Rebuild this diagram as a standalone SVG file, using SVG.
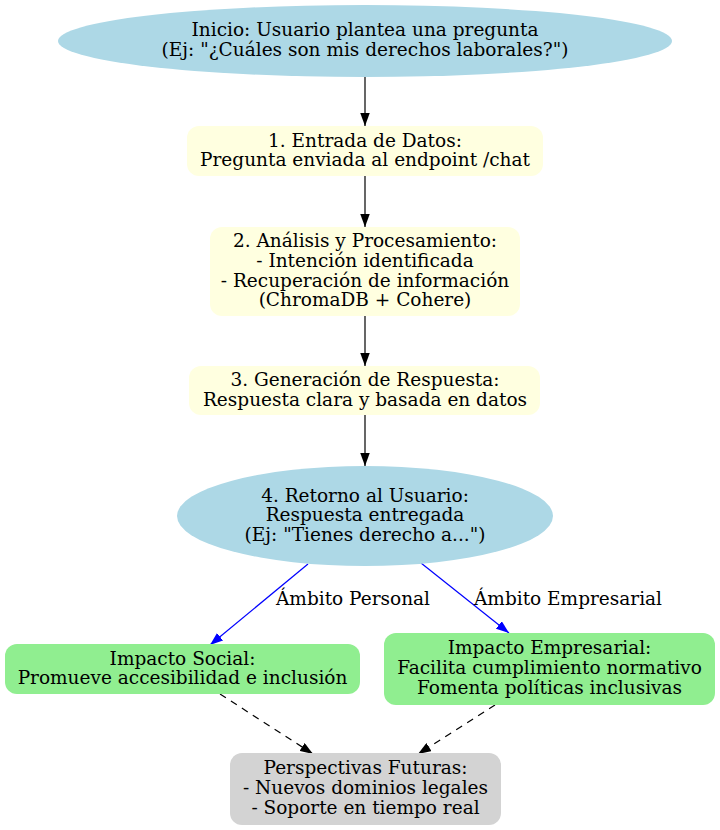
<svg xmlns="http://www.w3.org/2000/svg" width="720" height="830" viewBox="0 0 720 830">
<defs>
<style>
text{font-family:"DejaVu Serif","Liberation Serif",serif;font-size:18.5px;fill:#000;text-anchor:middle}
.e{stroke:#000;stroke-width:1.2;fill:none}
.b{stroke:#0000ff;stroke-width:1.2;fill:none}
.d{stroke:#000;stroke-width:1.2;fill:none;stroke-dasharray:7,6}
</style>
<marker id="ak" viewBox="0 0 13 9.5" refX="13" refY="4.75" markerWidth="13" markerHeight="9.5" markerUnits="userSpaceOnUse" orient="auto"><path d="M0,0L13,4.75L0,9.5z" fill="#000"/></marker>
<marker id="ab" viewBox="0 0 13 9.5" refX="13" refY="4.75" markerWidth="13" markerHeight="9.5" markerUnits="userSpaceOnUse" orient="auto"><path d="M0,0L13,4.75L0,9.5z" fill="#0000ff"/></marker>
</defs>
<rect width="720" height="830" fill="#fff"/>
<g id="connectors">
<line class="e" x1="365" y1="77" x2="365" y2="126" marker-end="url(#ak)"/>
<line class="e" x1="365" y1="176" x2="365" y2="227" marker-end="url(#ak)"/>
<line class="e" x1="365" y1="316" x2="365" y2="366" marker-end="url(#ak)"/>
<line class="e" x1="365" y1="415" x2="365" y2="466" marker-end="url(#ak)"/>
<line class="b" x1="308" y1="564" x2="210" y2="645" marker-end="url(#ab)"/>
<text x="353" y="605">Ámbito Personal</text>
<line class="b" x1="421" y1="563" x2="509" y2="633" marker-end="url(#ab)"/>
<text x="568" y="605">Ámbito Empresarial</text>
<line class="d" x1="220" y1="694" x2="313" y2="754" marker-end="url(#ak)"/>
<line class="d" x1="495" y1="705" x2="418" y2="754" marker-end="url(#ak)"/>
</g>
<g id="inicio">
<ellipse cx="365" cy="41" rx="307" ry="36" fill="#add8e6"/>
<text x="365" y="36">Inicio: Usuario plantea una pregunta</text>
<text x="365" y="55.5">(Ej: "¿Cuáles son mis derechos laborales?")</text>
</g>
<g id="entrada">
<rect x="187" y="126" width="356" height="50" rx="12" fill="#ffffe0"/>
<text x="365" y="146.5">1. Entrada de Datos:</text>
<text x="365" y="166">Pregunta enviada al endpoint /chat</text>
</g>
<g id="analisis">
<rect x="210" y="227" width="310" height="89" rx="12" fill="#ffffe0"/>
<text x="365" y="247">2. Análisis y Procesamiento:</text>
<text x="365" y="267">- Intención identificada</text>
<text x="365" y="286.5">- Recuperación de información</text>
<text x="365" y="306">(ChromaDB + Cohere)</text>
</g>
<g id="generacion">
<rect x="189" y="366" width="351" height="49" rx="12" fill="#ffffe0"/>
<text x="365" y="386">3. Generación de Respuesta:</text>
<text x="365" y="405.5">Respuesta clara y basada en datos</text>
</g>
<g id="retorno">
<ellipse cx="365" cy="516" rx="188" ry="50" fill="#add8e6"/>
<text x="365" y="501.5">4. Retorno al Usuario:</text>
<text x="365" y="521">Respuesta entregada</text>
<text x="365" y="540.5">(Ej: "Tienes derecho a...")</text>
</g>
<g id="social">
<rect x="5" y="644" width="355" height="50" rx="12" fill="#90ee90"/>
<text x="182.5" y="664.5">Impacto Social:</text>
<text x="182.5" y="684">Promueve accesibilidad e inclusión</text>
</g>
<g id="empresarial">
<rect x="384" y="633" width="331" height="72" rx="12" fill="#90ee90"/>
<text x="549.5" y="654">Impacto Empresarial:</text>
<text x="549.5" y="674">Facilita cumplimiento normativo</text>
<text x="549.5" y="694">Fomenta políticas inclusivas</text>
</g>
<g id="futuras">
<rect x="230" y="753" width="271" height="72" rx="12" fill="#d3d3d3"/>
<text x="365.5" y="774">Perspectivas Futuras:</text>
<text x="365.5" y="794">- Nuevos dominios legales</text>
<text x="365.5" y="814">- Soporte en tiempo real</text>
</g>
</svg>
